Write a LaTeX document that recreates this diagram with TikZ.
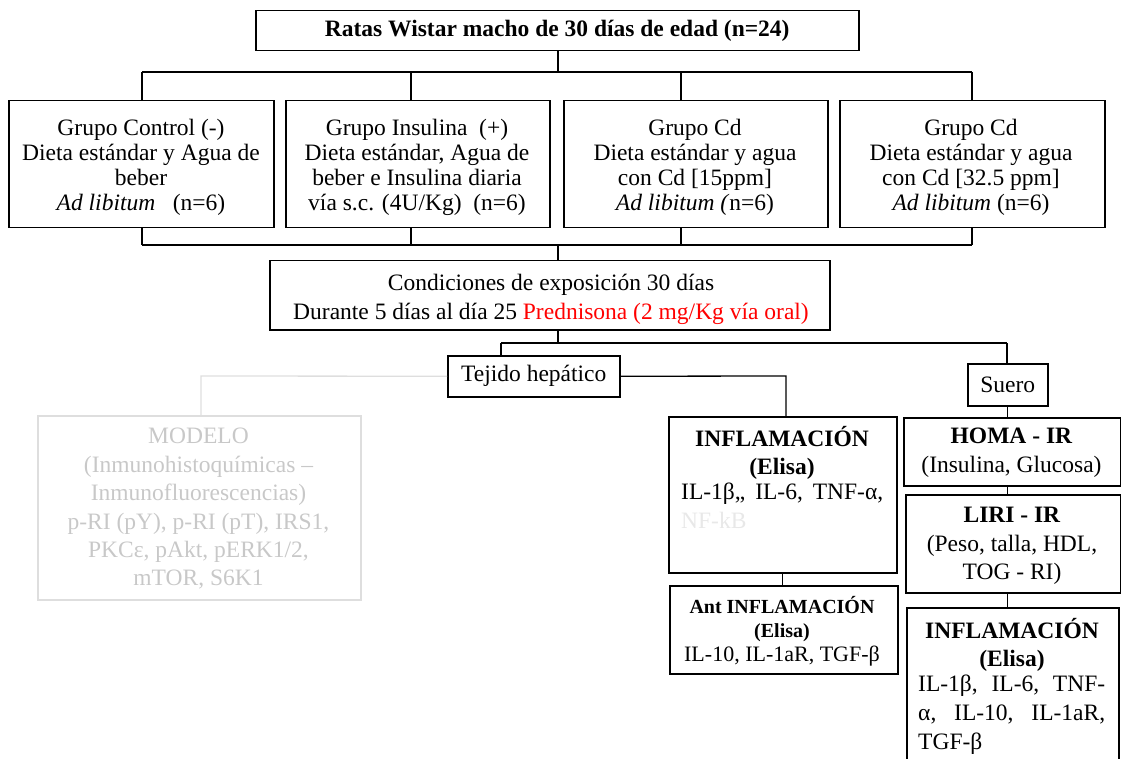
\documentclass[tikz,border=0pt]{standalone}
\usepackage{fontspec}
\setmainfont{Liberation Serif}
\definecolor{gtext}{RGB}{200,200,200}
\definecolor{gline}{RGB}{222,222,222}
\definecolor{nfgrey}{RGB}{232,232,232}
\tikzset{
  x=1pt, y=-1pt,
  box/.style={draw, line width=1.5pt, inner sep=0pt, anchor=north west, align=center},
  gbox/.style={draw=gline, line width=1.5pt, inner sep=0pt, anchor=north west},
  conn/.style={line width=1.3pt},
  gconn/.style={line width=1.3pt, draw=gline},
  txt/.style={inner sep=0pt, align=center, font=\fontsize{23.5}{25}\selectfont},
  txtb/.style={inner sep=0pt, align=center, font=\fontsize{23.5}{28.7}\selectfont},
}
\begin{document}
\begin{tikzpicture}
\useasboundingbox (0,0) rectangle (1121,759);
% top
\node[box, minimum width=603, minimum height=40, font=\fontsize{23.5}{25}\selectfont\bfseries] (top) at (255,10) {Ratas Wistar macho de 30 días de edad (n=24)};
% groups
\node[box, minimum width=265, minimum height=127] (g1) at (8,100) {};
\node[box, minimum width=264, minimum height=127] (g2) at (285,100) {};
\node[box, minimum width=264, minimum height=127] (g3) at (563,100) {};
\node[box, minimum width=265, minimum height=127] (g4) at (839,100) {};
\node[txt] (g1t) at (141,167.5) {Grupo Control (-)\\Dieta estándar y Agua de\\beber\\\textit{Ad libitum}~~~(n=6)};
\node[txt] (g2t) at (417,167.5) {Grupo Insulina~~(+)\\Dieta estándar, Agua de\\beber e Insulina diaria\\vía s.c. (4U/Kg)~~(n=6)};
\node[txt] (g3t) at (695,167.5) {Grupo Cd\\Dieta estándar y agua\\con Cd [15ppm]\\\textit{Ad libitum (}n=6)};
\node[txt] (g4t) at (971,167.5) {Grupo Cd\\Dieta estándar y agua\\con Cd [32.5 ppm]\\\textit{Ad libitum} (n=6)};
% conditions
\node[box, minimum width=560, minimum height=69] (cond) at (269,260) {};
\node[txtb] (condt) at (551,299.5) {Condiciones de exposición 30 días\\Durante 5 días al día 25 \textcolor{red}{Prednisona (2 mg/Kg vía oral)}};
% tejido, suero
\node[box, minimum width=172, minimum height=41, font=\fontsize{23.5}{25}\selectfont] (tej) at (447,355) {Tejido hepático};
\node[box, minimum width=80, minimum height=42, font=\fontsize{23.5}{25}\selectfont] (suero) at (967,363) {Suero};
% grey model box
\node[gbox, minimum width=323, minimum height=184] (grey) at (37,415) {};
\node[txt, font=\fontsize{23.5}{28.4}\selectfont, text=gtext] (greyt) at (198.5,509) {MODELO\\(Inmunohistoquímicas –\\Inmunofluorescencias)\\p-RI (pY), p-RI (pT), IRS1,\\PKCε, pAkt, pERK1/2,\\mTOR, S6K1};
% inflamacion 1
\node[box, minimum width=228, minimum height=156] (inf1) at (668,416) {};
\node[txt, font=\fontsize{23.5}{28.5}\selectfont, anchor=north] (inf1h) at (782,426) {\textbf{INFLAMACIÓN}\\\textbf{(Elisa)}};
\node[txt, font=\fontsize{23.5}{28.5}\selectfont, anchor=north west, text width=202, align=left] (inf1b) at (681,483) {IL-1β,,\hfill IL-6,\hfill TNF-α,\\\textcolor{nfgrey}{NF-kB}};
% ant inflamacion
\node[box, minimum width=228, minimum height=88] (ant) at (669,585) {};
\node[txt, font=\fontsize{20}{24}\selectfont] (antt) at (782,631) {\textbf{Ant INFLAMACIÓN}\\\textbf{(Elisa)}\\\fontsize{22}{24}\selectfont IL-10, IL-1aR, TGF-β};
% right column
\node[box, minimum width=217, minimum height=68] (homa) at (903,417) {};
\node[txtb] (homat) at (1011.5,453) {\textbf{HOMA - IR}\\(Insulina, Glucosa)};
\node[box, minimum width=215, minimum height=98] (liri) at (905,494) {};
\node[txtb] (lirit) at (1012,546) {\textbf{LIRI - IR}\\(Peso, talla, HDL,\\TOG - RI)};
\node[box, minimum width=212, minimum height=170] (inf2) at (906,607) {};
\node[txt, font=\fontsize{23.5}{28.5}\selectfont, anchor=north] (inf2h) at (1012,618) {\textbf{INFLAMACIÓN}\\\textbf{(Elisa)}};
\node[txt, font=\fontsize{23.5}{29}\selectfont, anchor=north west, text width=187, align=left] (inf2b) at (918,675) {IL-1β,\hfill IL-6,\hfill TNF-\\α,\hfill IL-10,\hfill IL-1aR,\\TGF-β};
% bus coordinates
\coordinate (d1) at (142,72);
\coordinate (d2) at (411,72);
\coordinate (d3) at (681,72);
\coordinate (d4) at (972,72);
\coordinate (e1) at (142,245);
\coordinate (e2) at (411,245);
\coordinate (e3) at (681,245);
\coordinate (e4) at (972,245);
\coordinate (ec) at (558,245);
\coordinate (f0) at (558,343);
\coordinate (f1) at (501,343);
\coordinate (f2) at (1007,343);
\coordinate (h1) at (786,376);
\coordinate (h2) at (201,376);
% connectors
\draw[conn] (top.south -| 558,0) -- (558,72);
\draw[conn] (d1) -- (d4);
\draw[conn] (d1) -- (d1 |- g1.north);
\draw[conn] (d2) -- (d2 |- g2.north);
\draw[conn] (d3) -- (d3 |- g3.north);
\draw[conn] (d4) -- (d4 |- g4.north);
\draw[conn] (e1 |- g1.south) -- (e1);
\draw[conn] (e2 |- g2.south) -- (e2);
\draw[conn] (e3 |- g3.south) -- (e3);
\draw[conn] (e4 |- g4.south) -- (e4);
\draw[conn] (e1) -- (e4);
\draw[conn] (ec) -- (ec |- cond.north);
\draw[conn] (ec |- cond.south) -- (f0);
\draw[conn] (f1) -- (f2);
\draw[conn] (f1) -- (f1 |- tej.north);
\draw[conn] (f2) -- (f2 |- suero.north);
\draw[conn] (tej.east) -- (h1) -- (h1 |- inf1.north);
\draw[gconn] (tej.west) -- (h2) -- (h2 |- grey.north);
\draw[conn] (inf1.south) -- (inf1.south |- ant.north);
\draw[conn] (suero.south) -- (suero.south |- homa.north);
\draw[conn] (suero.south |- homa.south) -- (suero.south |- liri.north);
\draw[conn] (suero.south |- liri.south) -- (suero.south |- inf2.north);
\end{tikzpicture}
\end{document}
